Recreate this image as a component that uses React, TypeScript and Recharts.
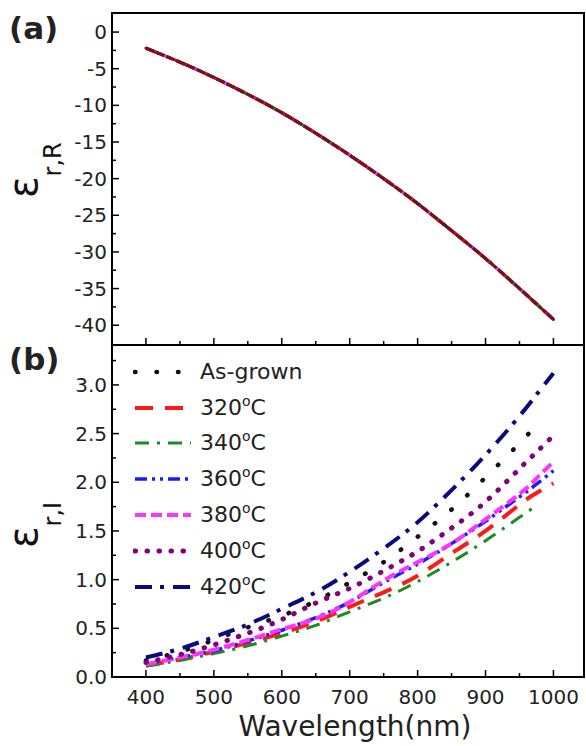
import React from 'react';
import { LineChart, Line, XAxis, YAxis, ReferenceArea, Legend } from 'recharts';

// ---------- data ----------
const wavelengths = [400, 450, 500, 550, 600, 650, 700, 750, 800, 850, 900, 950, 975, 1000];

// panel (a): real part, all samples overlap
const epsRealTop = [-2.2, -4.1, -6.2, -8.5, -11.0, -13.8, -16.8, -20.0, -23.4, -27.1, -30.9, -35.0, -37.1, -39.2];

// panel (b): imaginary part (null = curve ended)
const imagAsGrown = [0.17, 0.26, 0.38, 0.51, 0.63, 0.78, 0.97, 1.18, 1.44, 1.72, 2.05, 2.40, 2.59, null];
const imag320 = [0.12, 0.18, 0.26, 0.35, 0.45, 0.57, 0.72, 0.87, 1.04, 1.27, 1.50, 1.77, 1.89, 1.99];
const imag340 = [0.11, 0.17, 0.24, 0.32, 0.42, 0.53, 0.67, 0.81, 0.98, 1.18, 1.40, 1.64, 1.76, null];
const imag360 = [0.13, 0.20, 0.27, 0.37, 0.48, 0.61, 0.77, 0.97, 1.16, 1.37, 1.60, 1.85, 1.98, 2.12];
const imag380 = [0.13, 0.20, 0.28, 0.38, 0.49, 0.60, 0.77, 0.99, 1.18, 1.37, 1.62, 1.88, 2.04, 2.21];
const imag400 = [0.15, 0.23, 0.33, 0.45, 0.59, 0.76, 0.91, 1.09, 1.29, 1.53, 1.80, 2.14, 2.31, 2.48];
const imag420 = [0.20, 0.29, 0.41, 0.54, 0.70, 0.87, 1.08, 1.32, 1.59, 1.92, 2.28, 2.68, 2.90, 3.12];

const seriesNames = ['As-grown', '320', '340', '360', '380', '400', '420'];
const seriesIsTemp = [false, true, true, true, true, true, true];
const imagSeries = [imagAsGrown, imag320, imag340, imag360, imag380, imag400, imag420];

const xTicks = [400, 450, 500, 550, 600, 650, 700, 750, 800, 850, 900, 950, 1000];
const topYTicks = [-40, -37.5, -35, -32.5, -30, -27.5, -25, -22.5, -20, -17.5, -15, -12.5, -10, -7.5, -5, -2.5, 0];
const botYTicks = [0, 0.25, 0.5, 0.75, 1, 1.25, 1.5, 1.75, 2, 2.25, 2.5, 2.75, 3, 3.25];

// ---------- styles ----------
const FONT = '"DejaVu Sans", "Open Sans", sans-serif';
const seriesStyles = [
  { color: '#111111', dash: '0.5 21', width: 4.5, cap: 'round' },
  { color: '#ff1a1a', dash: '18 12', width: 4, cap: 'butt' },
  { color: '#1f8a1f', dash: '14 8 3 8', width: 3, cap: 'butt' },
  { color: '#1a1aff', dash: '12 5 3 5 3 5', width: 3.5, cap: 'butt' },
  { color: '#ff33ff', dash: '11 5', width: 4, cap: 'butt' },
  { color: '#800080', dash: '0.5 11.5', width: 5, cap: 'round' },
  { color: '#0a0a80', dash: '17 8 4 9', width: 4, cap: 'butt' },
];
// panel (a) look: curves coincide, the top-most trace reads as dark red
const topStyles = [
  { color: '#7a1010', dash: '9 2', width: 3, cap: 'butt' },
  { color: '#c01818', dash: '18 12', width: 3, cap: 'butt' },
  { color: '#1f8a1f', dash: '14 8 3 8', width: 3, cap: 'butt' },
  { color: '#2a2aff', dash: '12 5 3 5 3 5', width: 3, cap: 'butt' },
  { color: '#ff33ff', dash: '11 5', width: 3.5, cap: 'butt' },
  { color: '#800080', dash: '0.5 11.5', width: 3, cap: 'round' },
  { color: '#0a0a80', dash: '17 8 4 9', width: 3, cap: 'butt' },
];

const keys = seriesNames.map((_, i) => `s${i}`);

const topRows = wavelengths.map((w, i) => {
  const r: any = { w };
  keys.forEach((k) => (r[k] = epsRealTop[i]));
  return r;
});
const botRows = wavelengths.map((w, i) => {
  const r: any = { w };
  keys.forEach((k, j) => (r[k] = imagSeries[j][i]));
  return r;
});

const PLOT_LEFT = 112;

const makeXTick = (plotBottom: number, showLabel: boolean) => (props: any) => {
  const { x, payload } = props;
  const v = payload.value;
  const major = v % 100 === 0;
  return (
    <g>
      <line x1={x} x2={x} y1={plotBottom} y2={plotBottom - (major ? 7 : 4)} stroke="#000" strokeWidth={1.5} />
      {showLabel && major && (
        <text x={x} y={plotBottom + 20} textAnchor="middle" dominantBaseline="central" fontFamily={FONT} fontSize={20} fill="#222">
          {v}
        </text>
      )}
    </g>
  );
};

const makeYTick = (isMajor: (v: number) => boolean, fmt: (v: number) => string) => (props: any) => {
  const { y, payload } = props;
  const v = payload.value;
  const major = isMajor(v);
  return (
    <g>
      <line x1={PLOT_LEFT} x2={PLOT_LEFT + (major ? 7 : 4)} y1={y} y2={y} stroke="#000" strokeWidth={1.5} />
      {major && (
        <text x={PLOT_LEFT - 5} y={y} textAnchor="end" dominantBaseline="central" fontFamily={FONT} fontSize={20} fill="#222">
          {fmt(v)}
        </text>
      )}
    </g>
  );
};

const TopLabels = () => (
  <g>
    <text x={9} y={39} fontFamily={FONT} fontWeight="bold" fontSize={31} fill="#222">(a)</text>
    <text transform="translate(37,198) rotate(-90)" fontFamily={FONT} fill="#111">
      <tspan fontSize={40}>ε</tspan>
      <tspan fontSize={24} dy={24}>r,R</tspan>
    </text>
  </g>
);

const BotLabels = () => (
  <g>
    <text x={9} y={30} fontFamily={FONT} fontWeight="bold" fontSize={31} fill="#222">(b)</text>
    <text transform="translate(37,208) rotate(-90)" fontFamily={FONT} fill="#111">
      <tspan fontSize={40}>ε</tspan>
      <tspan fontSize={24} dy={24}>r,I</tspan>
    </text>
  </g>
);

const XTitle = () => (
  <text x={355} y={396} textAnchor="middle" fontFamily={FONT} fontSize={28} fill="#222">
    Wavelength(nm)
  </text>
);

const LegendContent = () => (
  <div style={{ fontFamily: FONT, fontSize: 22, color: '#222' }}>
    {seriesNames.map((name, i) => {
      const s = seriesStyles[i];
      return (
        <div key={name} style={{ display: 'flex', alignItems: 'center', height: 35.8 }}>
          <svg width={60} height={10} style={{ display: 'block' }}>
            <line x1={2} x2={58} y1={5} y2={5} stroke={s.color} strokeWidth={s.width} strokeDasharray={s.dash} strokeLinecap={s.cap as any} />
          </svg>
          <span style={{ marginLeft: 7, whiteSpace: 'nowrap', lineHeight: 1 }}>
            {name}
            {seriesIsTemp[i] && (
              <>
                <span style={{ fontSize: 14, position: 'relative', top: -9 }}>o</span>C
              </>
            )}
          </span>
        </div>
      );
    })}
  </div>
);

const X_DOMAIN: [number, number] = [350, 1045];
const TOP_DOMAIN: [number, number] = [-42.7, 2.6];
const BOT_DOMAIN: [number, number] = [0, 3.41];

export default function App() {
  const topOrder = [6, 5, 4, 3, 2, 1, 0];
  return (
    <div style={{ position: 'absolute', left: 0, top: 0, width: 586, height: 746, background: '#fff' }}>
      <div style={{ position: 'absolute', left: 0, top: 0 }}>
        <LineChart width={586} height={350} data={topRows} margin={{ top: 13, right: 2, bottom: 0, left: 0 }}>
          <XAxis
            dataKey="w"
            type="number"
            domain={X_DOMAIN}
            ticks={xTicks}
            interval={0}
            allowDataOverflow
            height={5}
            tickLine={false}
            axisLine={false}
            tick={makeXTick(345, false)}
          />
          <YAxis
            type="number"
            domain={TOP_DOMAIN}
            ticks={topYTicks}
            interval={0}
            allowDataOverflow
            width={112}
            tickLine={false}
            axisLine={false}
            tick={makeYTick((v) => v % 5 === 0, (v) => String(v))}
            label={<TopLabels />}
          />
          <ReferenceArea x1={X_DOMAIN[0]} x2={X_DOMAIN[1]} y1={TOP_DOMAIN[0]} y2={TOP_DOMAIN[1]} fill="none" stroke="#000" strokeWidth={2} fillOpacity={0} />
          {topOrder.map((i) => (
            <Line
              key={keys[i]}
              dataKey={keys[i]}
              type="natural"
              stroke={topStyles[i].color}
              strokeWidth={topStyles[i].width}
              strokeDasharray={topStyles[i].dash}
              strokeLinecap={topStyles[i].cap as any}
              dot={false}
              isAnimationActive={false}
            />
          ))}
        </LineChart>
      </div>
      <div style={{ position: 'absolute', left: 0, top: 340 }}>
        <LineChart width={586} height={406} data={botRows} margin={{ top: 5, right: 2, bottom: 0, left: 0 }}>
          <XAxis
            dataKey="w"
            type="number"
            domain={X_DOMAIN}
            ticks={xTicks}
            interval={0}
            allowDataOverflow
            height={69}
            tickLine={false}
            axisLine={false}
            tick={makeXTick(337, true)}
            label={<XTitle />}
          />
          <YAxis
            type="number"
            domain={BOT_DOMAIN}
            ticks={botYTicks}
            interval={0}
            allowDataOverflow
            width={112}
            tickLine={false}
            axisLine={false}
            tick={makeYTick((v) => Math.abs(v * 2 - Math.round(v * 2)) < 1e-6, (v) => v.toFixed(1))}
            label={<BotLabels />}
          />
          <ReferenceArea x1={X_DOMAIN[0]} x2={X_DOMAIN[1]} y1={BOT_DOMAIN[0]} y2={BOT_DOMAIN[1]} fill="none" stroke="#000" strokeWidth={2} fillOpacity={0} />
          <Legend
            layout="vertical"
            align="center"
            verticalAlign="middle"
            content={<LegendContent />}
            wrapperStyle={{ position: 'absolute', left: 133, top: 14, width: 220, height: 260 }}
          />
          {keys.map((k, i) => (
            <Line
              key={k}
              dataKey={k}
              name={seriesNames[i]}
              type="natural"
              stroke={seriesStyles[i].color}
              strokeWidth={seriesStyles[i].width}
              strokeDasharray={seriesStyles[i].dash}
              strokeLinecap={seriesStyles[i].cap as any}
              dot={false}
              connectNulls={false}
              isAnimationActive={false}
            />
          ))}
        </LineChart>
      </div>
    </div>
  );
}
